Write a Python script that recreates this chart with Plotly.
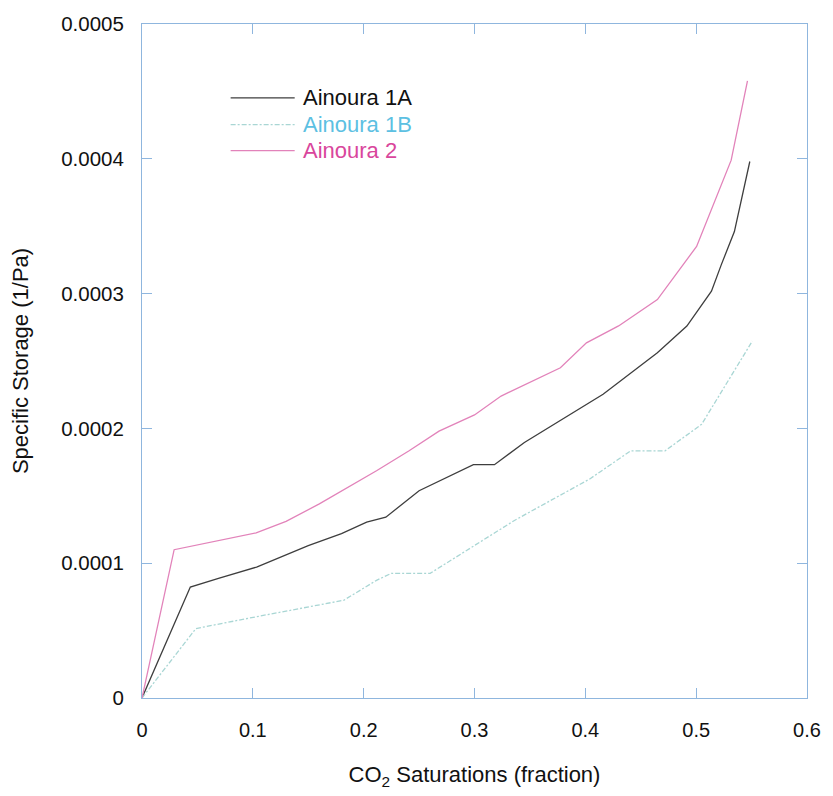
import plotly.graph_objects as go

# Ainoura 1A (black)
x_1a = [0, 0.0436, 0.069, 0.1034, 0.15, 0.18, 0.2027, 0.22, 0.25, 0.299, 0.318, 0.345,
        0.416, 0.465, 0.4916, 0.5138, 0.5227, 0.5345, 0.5484]
y_1a = [0, 0.823e-4, 0.887e-4, 0.971e-4, 1.13e-4, 1.22e-4, 1.304e-4, 1.341e-4, 1.538e-4,
        1.731e-4, 1.731e-4, 1.896e-4, 2.253e-4, 2.561e-4, 2.759e-4, 3.018e-4, 3.215e-4,
        3.46e-4, 3.98e-4]

# Ainoura 1B (cyan)
x_1b = [0, 0.0486, 0.102, 0.182, 0.2116, 0.225, 0.26, 0.3, 0.336, 0.404, 0.441, 0.472,
        0.5049, 0.5507]
y_1b = [0, 0.515e-4, 0.601e-4, 0.725e-4, 0.873e-4, 0.925e-4, 0.925e-4, 1.13e-4, 1.317e-4,
        1.625e-4, 1.834e-4, 1.834e-4, 2.03e-4, 2.648e-4]

# Ainoura 2 (pink)
x_2 = [0, 0.029, 0.103, 0.13, 0.16, 0.2116, 0.241, 0.268, 0.3, 0.324, 0.3775, 0.401,
       0.43, 0.465, 0.5004, 0.5316, 0.5463]
y_2 = [0, 1.10e-4, 1.225e-4, 1.31e-4, 1.44e-4, 1.686e-4, 1.834e-4, 1.98e-4, 2.1e-4,
       2.24e-4, 2.45e-4, 2.635e-4, 2.76e-4, 2.956e-4, 3.35e-4, 3.99e-4, 4.578e-4]

series_names = ["Ainoura 1A", "Ainoura 1B", "Ainoura 2"]
line_colors = ["#3e3e3e", "#a9d6d4", "#e283ba"]
text_colors = ["#111111", "#5cc0e2", "#d9469c"]

x_ticks = [0, 0.1, 0.2, 0.3, 0.4, 0.5, 0.6]
x_ticktext = ["0", "0.1", "0.2", "0.3", "0.4", "0.5", "0.6"]
y_ticks = [0, 0.0001, 0.0002, 0.0003, 0.0004, 0.0005]
y_ticktext = ["0", "0.0001", "0.0002", "0.0003", "0.0004", "0.0005"]

fig = go.Figure()
data = [(x_1a, y_1a), (x_1b, y_1b), (x_2, y_2)]
dashes = ["solid", "5px,2px,2px,2px", "solid"]
for (xs, ys), name, c, d in zip(data, series_names, line_colors, dashes):
    fig.add_trace(go.Scatter(x=xs, y=ys, mode="lines", name=name,
                             line=dict(color=c, width=1.3, dash=d), showlegend=False))

# manual legend
leg_y = [0.8905, 0.8506, 0.8121]
for name, lc, tc, ly, d in zip(series_names, line_colors, text_colors, leg_y, dashes):
    fig.add_shape(type="line", xref="paper", yref="paper", x0=0.1333, x1=0.2296, y0=ly, y1=ly,
                  line=dict(color=lc, width=1.3, dash=d))
    fig.add_annotation(xref="paper", yref="paper", x=0.2385, y=ly, text=name, showarrow=False,
                       xanchor="left", yanchor="middle", font=dict(size=22, color=tc))

axis_color = "#8fb6de"
fig.update_xaxes(range=[0, 0.6], tickvals=x_ticks, ticktext=x_ticktext, ticks="inside",
                 ticklen=10, tickcolor=axis_color, showline=True, linecolor=axis_color,
                 linewidth=1, mirror="ticks", showgrid=False, zeroline=False,
                 ticklabelstandoff=14,
                 tickfont=dict(size=20, color="#111"),
                 title=dict(text="CO<sub>2</sub> Saturations (fraction)",
                            font=dict(size=22, color="#111"), standoff=26))
fig.update_yaxes(range=[0, 0.0005], tickvals=y_ticks, ticktext=y_ticktext, ticks="inside",
                 ticklen=10, tickcolor=axis_color, showline=True, linecolor=axis_color,
                 linewidth=1, mirror="ticks", showgrid=False, zeroline=False,
                 ticklabelstandoff=13,
                 tickfont=dict(size=20.5, color="#111"),
                 title=dict(text="Specific Storage (1/Pa)",
                            font=dict(size=22, color="#111"), standoff=26))

fig.update_layout(width=833, height=796, margin=dict(l=142, r=16, t=22, b=98),
                  plot_bgcolor="white", paper_bgcolor="white",
                  font=dict(family="Arial, Liberation Sans, sans-serif"))

fig.write_html("out.html")
